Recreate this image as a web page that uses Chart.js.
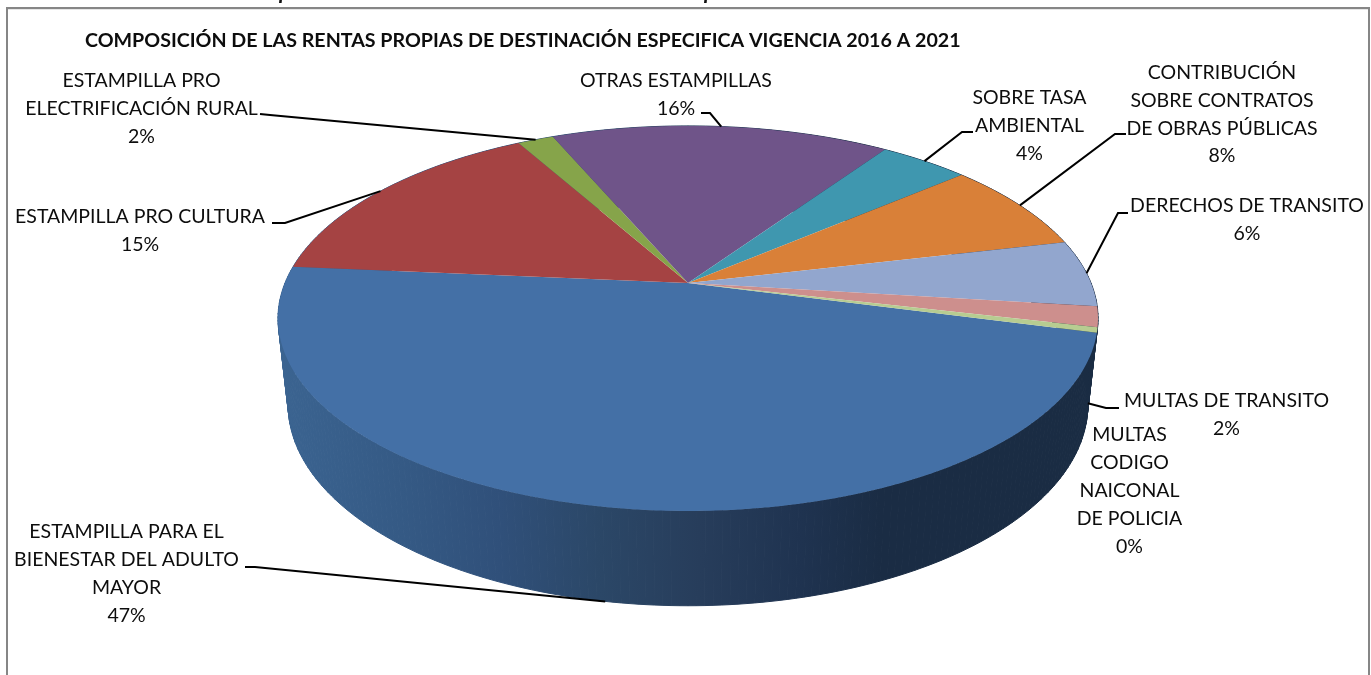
<!DOCTYPE html>
<html>
<head>
<meta charset="utf-8">
<title>Rentas propias de destinación específica</title>
<script src="https://cdn.jsdelivr.net/npm/chart.js@4/dist/chart.umd.min.js"></script>
<style>
  html, body { margin: 0; padding: 0; background: #fff; overflow: hidden; }
  canvas { display: block; }
</style>
</head>
<body>
<canvas id="chart" width="1371" height="675"></canvas>
<script>
const chartTitle = 'COMPOSICIÓN DE LAS RENTAS PROPIAS DE DESTINACIÓN ESPECIFICA VIGENCIA 2016 A 2021';

// Slices in drawing order, clockwise from the lower right edge.
const categories = [
  ['ESTAMPILLA PARA EL', 'BIENESTAR DEL ADULTO', 'MAYOR'],
  ['ESTAMPILLA PRO CULTURA'],
  ['ESTAMPILLA PRO', 'ELECTRIFICACIÓN RURAL'],
  ['OTRAS ESTAMPILLAS'],
  ['SOBRE TASA', 'AMBIENTAL'],
  ['CONTRIBUCIÓN', 'SOBRE CONTRATOS', 'DE OBRAS PÚBLICAS'],
  ['DERECHOS DE TRANSITO'],
  ['MULTAS DE TRANSITO'],
  ['MULTAS', 'CODIGO', 'NAICONAL', 'DE POLICIA']
];
const values = [47.2, 15.45, 1.7, 15.9, 4.2, 7.6, 5.6, 1.7, 0.45];
const sliceColors = ['#4470a6', '#a54343', '#86a44a', '#6f5489', '#3f97af', '#d98038', '#92a6ce', '#cd8f8d', '#b7cc91'];

// Label placement: text centre, first line y, optional leader start + elbow, rim the leader lands on.
const labelLayout = [
  { x: 126.5, y: 532, pitch: 28, leader: [[245, 567], [255, 567]], rim: 'bottom' },
  { x: 140, y: 217, pitch: 27.5, leader: [[272, 223], [285, 223]], rim: 'top' },
  { x: 141.5, y: 81, pitch: 28, leader: [[260, 114], [270, 115]], rim: 'top' },
  { x: 676, y: 81, pitch: 27.5, leader: [[701, 113], [710, 113]], rim: 'top' },
  { x: 1029.5, y: 98, pitch: 28, leader: [[973, 132], [962, 132]], rim: 'top' },
  { x: 1222, y: 73, pitch: 27.7, leader: [[1126, 134], [1115, 134]], rim: 'top' },
  { x: 1247, y: 206, pitch: 28, leader: [[1128, 213], [1118, 213]], rim: 'top' },
  { x: 1226.5, y: 401, pitch: 28, leader: [[1119, 408], [1106, 408]], rim: 'bottom' },
  { x: 1129.5, y: 435, pitch: 28 }
];

// Perspective disc: top face and the smaller, lower bottom face.
const CX = 688, TILT = 0.184;
const TOP_DISC = { cy: 283, rx: 403, ry: 186 };
const BOTTOM_DISC = { cy: 368, rx: 393, ry: 194 };
const WALL_STOPS = [[278, '#3b6491'], [400, '#355a85'], [500, '#30507a'], [600, '#2b4767'], [700, '#273d5b'], [800, '#1f3350'], [880, '#1a2c44'], [1098, '#1a2c43']];

function project(disc, angle) {
  const u = Math.cos(angle), v = -Math.sin(angle), w = 1 + TILT * v;
  return [CX + disc.rx * u / w, disc.cy - disc.ry * v / w];
}

function drawWall(ctx) {
  const grad = ctx.createLinearGradient(0, 0, 1371, 0);
  WALL_STOPS.forEach(([x, c]) => grad.addColorStop(x / 1371, c));
  ctx.fillStyle = grad;
  ctx.strokeStyle = grad;
  ctx.lineWidth = 1;
  for (let d = 0; d < 360; d++) {
    const a = d * Math.PI / 180, b = (d + 1) * Math.PI / 180;
    const pts = [project(TOP_DISC, a), project(TOP_DISC, b), project(BOTTOM_DISC, b), project(BOTTOM_DISC, a)];
    ctx.beginPath();
    pts.forEach((p, i) => i ? ctx.lineTo(p[0], p[1]) : ctx.moveTo(p[0], p[1]));
    ctx.closePath();
    ctx.fill();
    ctx.stroke();
  }
}

function drawSlice(ctx, arc, color) {
  ctx.beginPath();
  ctx.moveTo(CX, TOP_DISC.cy);
  const steps = Math.max(2, Math.ceil((arc.endAngle - arc.startAngle) / 0.01));
  for (let i = 0; i <= steps; i++) {
    const p = project(TOP_DISC, arc.startAngle + (arc.endAngle - arc.startAngle) * i / steps);
    ctx.lineTo(p[0], p[1]);
  }
  ctx.closePath();
  ctx.fillStyle = color;
  ctx.fill();
}

function drawLabels(ctx, arcs) {
  const total = values.reduce((a, b) => a + b, 0);
  ctx.fillStyle = '#0d0d0d';
  ctx.textAlign = 'center';
  ctx.textBaseline = 'middle';
  ctx.font = '19.5px Lato';
  categories.forEach((lines, i) => {
    const l = labelLayout[i];
    [...lines, Math.round(values[i] / total * 100) + '%'].forEach((t, n) => ctx.fillText(t, l.x, l.y + n * l.pitch));
    if (!l.leader) return;
    const end = project(l.rim === 'top' ? TOP_DISC : BOTTOM_DISC, (arcs[i].startAngle + arcs[i].endAngle) / 2);
    ctx.beginPath();
    ctx.moveTo(l.leader[0][0], l.leader[0][1]);
    ctx.lineTo(l.leader[1][0], l.leader[1][1]);
    ctx.lineTo(end[0], end[1]);
    ctx.strokeStyle = '#000';
    ctx.lineWidth = 2;
    ctx.stroke();
  });
}

function drawFrame(ctx) {
  ctx.fillStyle = '#868686';
  ctx.fillRect(6, 7, 1364, 2);
  ctx.fillRect(6, 7, 2, 668);
  ctx.fillRect(1368, 7, 2, 668);
  ctx.fillStyle = '#e6e6e6';
  ctx.fillRect(8, 9, 1360, 1);
  // Bits of the caption above the chart that were cut off by the crop.
  ctx.fillStyle = '#111';
  ctx.textAlign = 'left';
  ctx.textBaseline = 'alphabetic';
  ctx.font = 'italic bold 22px Lato';
  ctx.fillText('p', 279, -1);
  ctx.fillText('p', 704, -1);
  ctx.font = 'bold 19.65px Lato';
  ctx.fillStyle = '#0d0d0d';
  ctx.textBaseline = 'middle';
  ctx.fillText(chartTitle, 85, 41);
}

const pie3d = {
  id: 'pie3d',
  beforeDatasetDraw(chart, args) {
    const ctx = chart.ctx, arcs = args.meta.data;
    ctx.save();
    drawFrame(ctx);
    drawWall(ctx);
    arcs.forEach((arc, i) => drawSlice(ctx, arc, sliceColors[i]));
    drawLabels(ctx, arcs);
    ctx.restore();
    return false; // the flat arcs are replaced by the projected ones
  }
};

new Chart(document.getElementById('chart').getContext('2d'), {
  type: 'pie',
  data: {
    labels: categories,
    datasets: [{ data: values, backgroundColor: sliceColors, borderWidth: 0 }]
  },
  options: {
    responsive: false,
    animation: false,
    rotation: 104.8,
    plugins: { legend: { display: false }, tooltip: { enabled: false } }
  },
  plugins: [pie3d]
});
</script>
</body>
</html>
